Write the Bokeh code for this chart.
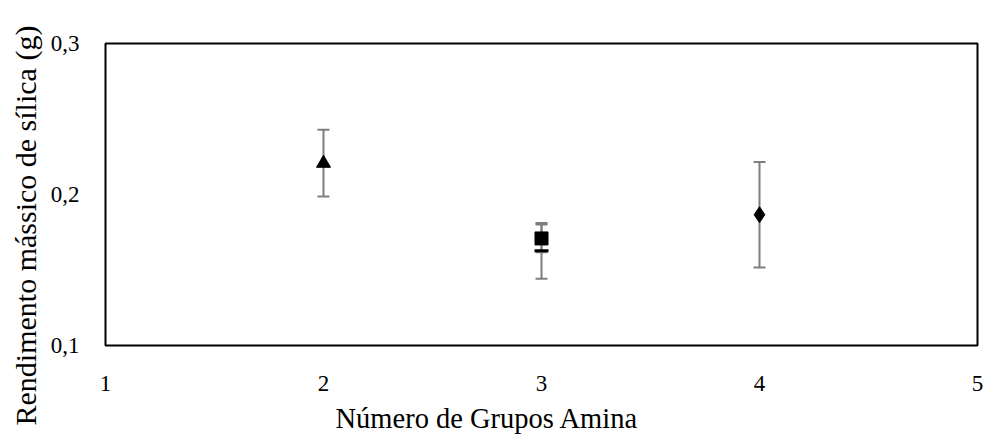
from bokeh.plotting import figure
from bokeh.models import Range1d, FixedTicker, Whisker, TeeHead, ColumnDataSource, Title
from bokeh.embed import file_html
from bokeh.resources import INLINE

# Data
x_ticks = [1, 2, 3, 4, 5]
y_ticks = [0.1, 0.2, 0.3]
y_tick_labels = ["0,1", "0,2", "0,3"]

tri_x = [2]
tri_y = [0.2207]
tri_err = [0.0221]

sq_x = [3]
sq_y = [0.1709]
sq_err = [0.0092]

dash_x = [3]
dash_y = [0.1627]
dash_err = [0.0185]

dia_x = [4]
dia_y = [0.1866]
dia_err = [0.0349]

x_title = "Número de Grupos Amina"
y_title = "Rendimento mássico de sílica (g)"

FONT = "Liberation Serif"
ERR_COLOR = "#7f7f7f"

p = figure(width=984, height=443, output_backend="svg", toolbar_location=None,
           x_range=Range1d(1, 5), y_range=Range1d(0.1, 0.3),
           min_border_left=105, min_border_right=7, min_border_top=43, min_border_bottom=98)
p.background_fill_color = "white"
p.border_fill_color = "white"
p.outline_line_color = "black"
p.outline_line_width = 2
p.xgrid.visible = False
p.ygrid.visible = False

for ax in (p.xaxis[0], p.yaxis[0]):
    ax.axis_line_color = None
    ax.major_tick_line_color = None
    ax.minor_tick_line_color = None
    ax.major_label_text_font = FONT
    ax.major_label_text_font_size = "23px"
    ax.major_label_text_color = "black"

p.xaxis[0].ticker = FixedTicker(ticks=x_ticks)
p.xaxis[0].major_label_standoff = 24
p.yaxis[0].ticker = FixedTicker(ticks=y_ticks)
p.yaxis[0].major_label_overrides = {t: l for t, l in zip(y_ticks, y_tick_labels)}
p.yaxis[0].major_label_standoff = 20


def add_err(xs, ys, errs):
    src = ColumnDataSource(dict(x=xs, lo=[y - e for y, e in zip(ys, errs)],
                                hi=[y + e for y, e in zip(ys, errs)]))
    w = Whisker(source=src, base="x", lower="lo", upper="hi",
                line_color=ERR_COLOR, line_width=2,
                upper_head=TeeHead(size=12, line_color=ERR_COLOR, line_width=2),
                lower_head=TeeHead(size=12, line_color=ERR_COLOR, line_width=2))
    p.add_layout(w)


add_err(tri_x, tri_y, tri_err)
add_err(dash_x, dash_y, dash_err)
add_err(sq_x, sq_y, sq_err)
add_err(dia_x, dia_y, dia_err)

p.scatter(tri_x, tri_y, marker="triangle", size=14, color="black")
p.scatter(sq_x, sq_y, marker="square", size=13, color="black")
p.scatter(dash_x, dash_y, marker="dash", size=14, line_width=3, color="black")
p.scatter(dia_x, dia_y, marker="diamond", size=16, color="black")

xt = Title(text=x_title, align="left", offset=230, text_font=FONT,
           text_font_size="28.5px", text_font_style="normal", text_color="black", standoff=14)
p.add_layout(xt, "below")
yt = Title(text=y_title, align="left", offset=-80, text_font=FONT,
           text_font_size="30px", text_font_style="normal", text_color="black", standoff=12)
p.add_layout(yt, "left")

open("out.html", "w").write(file_html(p, INLINE))
